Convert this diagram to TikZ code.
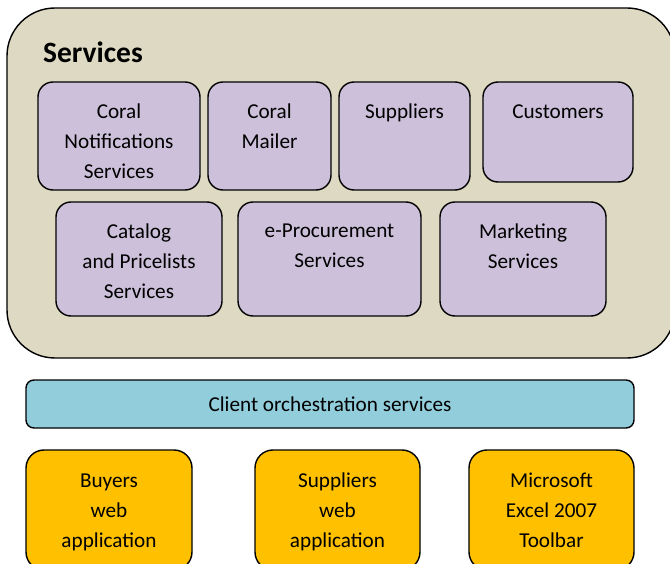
\documentclass[tikz,border=0pt]{standalone}
\usepackage{fontspec}
\setmainfont{Carlito}
\usetikzlibrary{positioning}

\definecolor{shell}{RGB}{221,217,195}
\definecolor{lilac}{RGB}{204,192,218}
\definecolor{aqua}{RGB}{146,205,220}
\definecolor{amber}{RGB}{255,192,0}

\begin{document}
\begin{tikzpicture}[x=1pt, y=-1pt, line join=round,
  box/.style={draw, line width=1.4pt, rounded corners=#1, inner sep=0pt},
  svc/.style={box=15pt, fill=lilac},
  app/.style={box=18pt, fill=amber},
  caption/.style={inner sep=0pt, align=center,
    font=\fontsize{21.2}{30}\selectfont}
]
  \useasboundingbox (0,0) rectangle (670,564);

  % Services container
  \draw[line width=1.4pt, fill=shell, rounded corners=48pt]
    (7,8) rectangle (675,358);
  \node[anchor=base west, inner sep=0pt, font=\fontsize{29.5}{34}\selectfont\bfseries]
    (title) at (43,63) {Services};

  % first row
  \node[svc, minimum width=162pt, minimum height=108pt] (notif)  at (119,136) {};
  \node[svc, minimum width=123pt, minimum height=108pt] (mailer) at (269.5,136) {};
  \node[svc, minimum width=131pt, minimum height=108pt] (suppl)  at (404.5,136) {};
  \node[svc, minimum width=150pt, minimum height=100pt] (cust)   at (558,132) {};

  \node[caption, below=22pt of notif.north]  {Coral\\Notifications\\Services};
  \node[caption, below=22pt of mailer.north] {Coral\\Mailer};
  \node[caption, below=22pt of suppl.north]  {Suppliers};
  \node[caption, below=23pt of cust.north]   {Customers};

  % second row
  \node[svc, minimum width=166pt, minimum height=114pt] (catalog) at (139,259) {};
  \node[svc, minimum width=183pt, minimum height=114pt] (eproc)   at (329.5,259) {};
  \node[svc, minimum width=166pt, minimum height=114pt] (market)  at (523,259) {};

  \node[caption, below=22pt of catalog.north] {Catalog\\and Pricelists\\Services};
  \node[caption, below=22pt of eproc.north]   {e-Procurement\\Services};
  \node[caption, below=22pt of market.north]  {Marketing\\Services};

  % orchestration bar
  \node[box=8pt, fill=aqua, minimum width=608pt, minimum height=48pt,
    font=\fontsize{21.2}{30}\selectfont] (client) at (330,404)
    {Client orchestration services};

  % client applications
  \node[app, minimum width=166pt, minimum height=120pt] (buyers) at (109,510) {};
  \node[app, minimum width=165pt, minimum height=120pt] (supweb) at (337.5,510) {};
  \node[app, minimum width=165pt, minimum height=120pt] (excel)  at (551.5,510) {};

  \node[caption, below=24pt of buyers.north] {Buyers\\web\\application};
  \node[caption, below=23pt of supweb.north] {Suppliers\\web\\application};
  \node[caption, below=23pt of excel.north]  {Microsoft\\Excel 2007\\Toolbar};
\end{tikzpicture}
\end{document}
